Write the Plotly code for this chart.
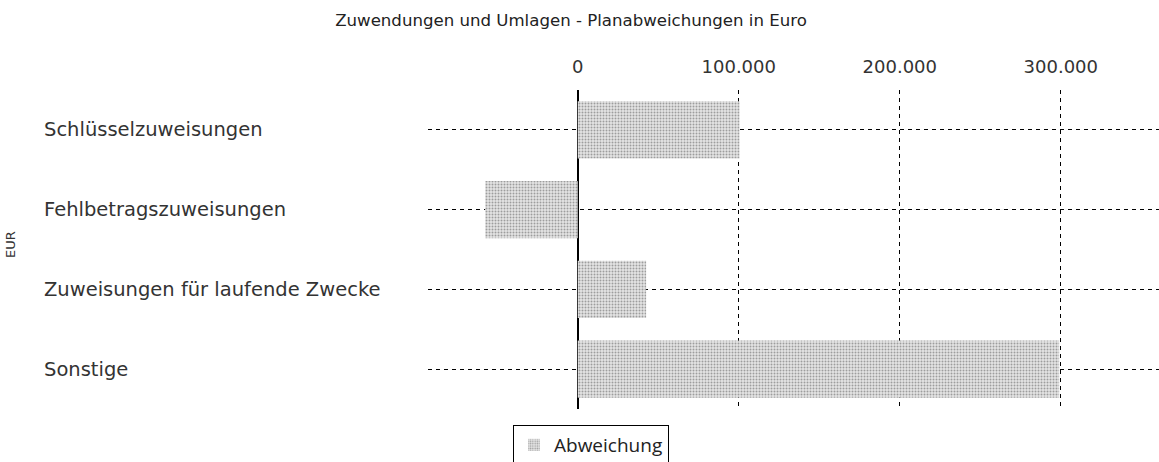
import plotly.graph_objects as go

categories = ["Schlüsselzuweisungen", "Fehlbetragszuweisungen",
              "Zuweisungen für laufende Zwecke", "Sonstige"]
abweichung = [100500, -57500, 42500, 299000]
tick_vals = [0, 100000, 200000, 300000]
series_name = "Abweichung"
title_text = "Zuwendungen und Umlagen - Planabweichungen in Euro"
y_title = "EUR"

fig = go.Figure()
fig.add_trace(go.Bar(
    y=categories, x=abweichung, orientation="h", name=series_name,
    marker=dict(color="#dedede",
                pattern=dict(shape=".", fgcolor="#555555", bgcolor="#e4e4e4",
                             size=3, solidity=0.35),
                line=dict(width=0)),
    showlegend=True,
))

W, H = 1159, 462
L, R, T, B = 428, 0, 90, 53
PW, PH = W - L - R, H - T - B

for c in categories:
    fig.add_annotation(x=(42 - L) / PW, xref="paper", y=c, yref="y",
                       text=c, showarrow=False, xanchor="left",
                       font=dict(family="DejaVu Sans", size=19.5, color="#333"))

fig.add_annotation(x=(10 - L) / PW, xref="paper", y=(H - 245 - B) / PH,
                   yref="paper", text=y_title, textangle=-90, showarrow=False,
                   xanchor="center", yanchor="middle",
                   font=dict(family="DejaVu Sans", size=13, color="#333"))

fig.update_layout(
    width=W, height=H,
    margin=dict(l=L, r=R, t=T, b=B, autoexpand=False),
    paper_bgcolor="white", plot_bgcolor="white",
    separators=",.",
    bargap=0.28,
    title=dict(text=title_text, x=571 / W, xanchor="center", y=1 - 20 / H,
               yanchor="middle", font=dict(family="DejaVu Sans", size=16.6, color="#222")),
    legend=dict(orientation="h", x=(513 - L) / PW, xanchor="left",
                y=-(425 - 409) / PH, yanchor="top", bordercolor="#000", borderwidth=1,
                font=dict(family="Open Sans", size=19, color="#222")),
    xaxis=dict(side="top", range=[-93000, 361000], tickvals=tick_vals,
               tickformat=",d", showgrid=True, gridcolor="#000", griddash="4px,4px",
               gridwidth=1, zeroline=True, zerolinecolor="#000", zerolinewidth=2,
               ticks="", ticklabelstandoff=12, automargin=False,
               tickfont=dict(family="DejaVu Sans", size=18, color="#333")),
    yaxis=dict(autorange="reversed", showticklabels=False, showgrid=True,
               gridcolor="#000", griddash="4px,4px", gridwidth=1, ticks="",
               automargin=False),
)

fig.write_html("out.html", config={"displayModeBar": False},
               post_script="document.body.style.margin='0';document.body.style.padding='0';")
